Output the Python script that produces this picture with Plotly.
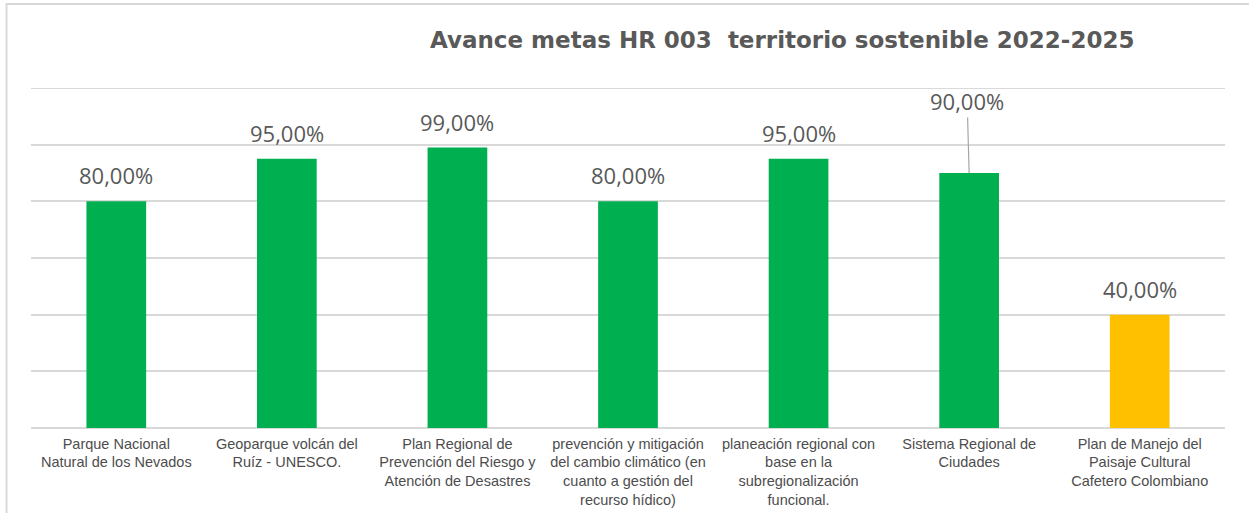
import plotly.graph_objects as go

categories = [
    "Parque Nacional Natural de los Nevados",
    "Geoparque volcán del Ruíz - UNESCO.",
    "Plan Regional de Prevención del Riesgo y Atención de Desastres",
    "prevención y mitigación del cambio climático (en cuanto a gestión del recurso hídico)",
    "planeación regional con base en la subregionalización funcional.",
    "Sistema Regional de Ciudades",
    "Plan de Manejo del Paisaje Cultural Cafetero Colombiano",
]
tick_labels = [
    "Parque Nacional<br>Natural de los Nevados",
    "Geoparque volcán del<br>Ruíz - UNESCO.",
    "Plan Regional de<br>Prevención del Riesgo y<br>Atención de Desastres",
    "prevención y mitigación<br>del cambio climático (en<br>cuanto a gestión del<br>recurso hídico)",
    "planeación regional con<br>base en la<br>subregionalización<br>funcional.",
    "Sistema Regional de<br>Ciudades",
    "Plan de Manejo del<br>Paisaje Cultural<br>Cafetero Colombiano",
]
avance = [80, 95, 99, 80, 95, 90, 40]
colores = ["#00B050"] * 6 + ["#FFC000"]

GREY = "#595959"
GRID = "#D9D9D9"
LABEL_FONT = dict(family="Open Sans", size=22, color=GREY)


def fmt(v):
    return f"{v:.2f}%".replace(".", ",")


fig = go.Figure(go.Bar(
    x=categories,
    y=avance,
    marker=dict(color=colores, line=dict(width=0)),
    cliponaxis=False,
    hovertemplate="%{x}: %{y}%<extra></extra>",
))

# data labels; the Sistema Regional one sits higher with a leader line
for i, (cat, v) in enumerate(zip(categories, avance)):
    if i == 5:
        fig.add_annotation(
            x=cat, y=v, text=fmt(v),
            showarrow=True, arrowhead=0, arrowwidth=1.2, arrowcolor="#A6A6A6",
            ax=-2, ay=-72, standoff=0, font=LABEL_FONT,
        )
    else:
        fig.add_annotation(
            x=cat, y=v, text=fmt(v), showarrow=False,
            yanchor="middle", yshift=26, font=LABEL_FONT,
        )

fig.add_annotation(
    xref="paper", yref="paper", x=0.629, y=1.141,
    xanchor="center", yanchor="middle", showarrow=False,
    text="<b>Avance metas HR 003  territorio sostenible 2022-2025</b>",
    font=dict(family="DejaVu Sans", size=23, color=GREY),
)

# top gridline (plotly drops the one sitting on the plot edge)
fig.add_shape(
    type="line", xref="paper", yref="y", x0=0, x1=1, y0=120, y1=120,
    line=dict(color=GRID, width=2), layer="below",
)

# light frame around the chart area
fig.add_shape(
    type="rect", xref="paper", yref="paper",
    x0=-0.0205, x1=1.2, y0=-0.5, y1=1.247,
    line=dict(color=GRID, width=2), layer="below",
)

fig.update_layout(
    width=1249, height=513,
    margin=dict(l=31, r=24, t=88, b=85),
    paper_bgcolor="white",
    plot_bgcolor="white",
    bargap=0.65,
    showlegend=False,
    xaxis=dict(
        tickmode="array", tickvals=categories, ticktext=tick_labels,
        tickangle=0, showgrid=False, showline=False, zeroline=False,
        tickfont=dict(family="Liberation Sans, Arial", size=14.5, color="#4D4D4D"),
        ticks="", ticklabelstandoff=5, automargin=False, fixedrange=True,
    ),
    yaxis=dict(
        range=[0, 120], dtick=20, showgrid=True, gridcolor=GRID, gridwidth=2,
        showticklabels=False, zeroline=True, zerolinecolor=GRID, zerolinewidth=2,
        automargin=False, fixedrange=True,
    ),
)

fig.write_html(
    "out.html",
    config={"displayModeBar": False},
    post_script="document.body.style.margin='0px';",
)
